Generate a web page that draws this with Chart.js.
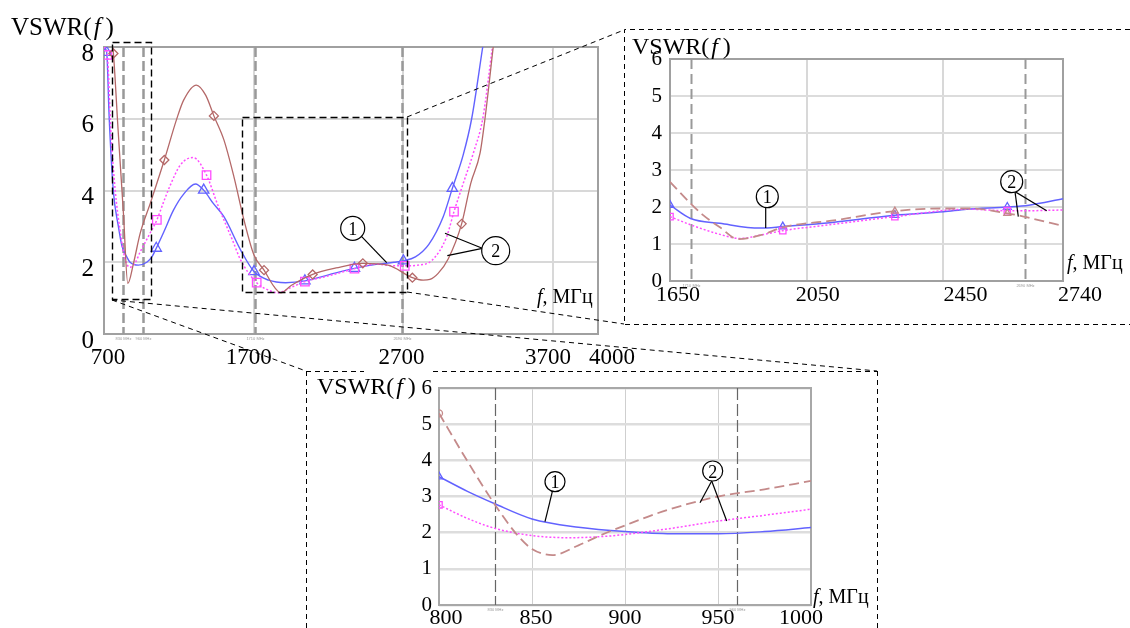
<!DOCTYPE html>
<html>
<head>
<meta charset="utf-8">
<script src="https://cdn.jsdelivr.net/npm/chart.js@4.4.1/dist/chart.umd.min.js"></script>
<style>
  body { margin: 0; width: 1130px; height: 628px; overflow: hidden; position: relative; background: #fff; }
  canvas { position: absolute; }
  .lbl { position: absolute; font-family: "Liberation Serif", serif; color: #000; line-height: 1; white-space: nowrap; }
  svg { position: absolute; left: 0; top: 0; pointer-events: none; }
</style>
</head>
<body>
<canvas id="mainChart" style="left:0;top:0" width="640" height="380"></canvas>
<canvas id="rightChart" style="left:630px;top:45px" width="500" height="270"></canvas>
<canvas id="bottomChart" style="left:380px;top:375px" width="500" height="253"></canvas>

<div class="lbl" style="left:11px;top:14px;font-size:25px">VSWR(<i>&#8202;f&#8201;</i>)</div>
<div class="lbl" style="left:632px;top:34px;font-size:24px">VSWR(<i>&#8202;f&#8201;</i>)</div>
<div class="lbl" style="left:317px;top:374px;font-size:24px">VSWR(<i>&#8202;f&#8201;</i>)</div>
<div class="lbl" style="left:537px;top:286px;font-size:20px"><i>f</i>, МГц</div>
<div class="lbl" style="left:1067px;top:252px;font-size:20px"><i>f</i>, МГц</div>
<div class="lbl" style="left:813px;top:586px;font-size:20px"><i>f</i>, МГц</div>

<svg width="1130" height="628">
  <g fill="none" stroke="#000" stroke-width="1.4" stroke-dasharray="7 4">
    <rect x="112.5" y="42.5" width="39" height="257"/>
    <rect x="242.5" y="117.5" width="165" height="175"/>
  </g>
  <g fill="none" stroke="#000" stroke-width="1" stroke-dasharray="5 4">
    <line x1="407" y1="117" x2="624" y2="30"/>
    <line x1="407" y1="292" x2="624" y2="324"/>
    <line x1="112" y1="300" x2="306" y2="371"/>
    <line x1="112" y1="300" x2="877" y2="371"/>
    <polyline points="1130,29.5 624.5,29.5 624.5,324.5 1130,324.5"/>
    <line x1="306.5" y1="371" x2="306.5" y2="628"/>
    <line x1="306" y1="371.5" x2="364" y2="371.5"/>
    <line x1="433" y1="371.5" x2="877" y2="371.5"/>
    <line x1="877.5" y1="371" x2="877.5" y2="628"/>
  </g>
  <g fill="#fff" stroke="#000" stroke-width="1.2">
    <line x1="361.7" y1="236.7" x2="386.7" y2="262.7"/>
    <line x1="482.3" y1="248.3" x2="445" y2="233.3"/>
    <line x1="482.3" y1="248.3" x2="447.3" y2="255.7"/>
    <circle cx="352.7" cy="228.3" r="12"/>
    <circle cx="495.7" cy="250.7" r="14"/>
    <line x1="765.7" y1="208" x2="765.7" y2="228"/>
    <line x1="1015" y1="191.7" x2="1046.7" y2="210.7"/>
    <line x1="1015" y1="191.7" x2="1018.3" y2="216.7"/>
    <circle cx="767.3" cy="196.7" r="11"/>
    <circle cx="1011.7" cy="181.7" r="11"/>
    <line x1="552.3" y1="491.7" x2="545" y2="521.7"/>
    <line x1="711.7" y1="481" x2="700" y2="502.7"/>
    <line x1="711.7" y1="481" x2="726.7" y2="521"/>
    <circle cx="555" cy="481.7" r="10"/>
    <circle cx="712.7" cy="471" r="10"/>
  </g>
  <g font-family="Liberation Serif" font-size="18" text-anchor="middle" fill="#000">
    <text x="352.7" y="234.5">1</text>
    <text x="495.7" y="257">2</text>
    <text x="767.3" y="203">1</text>
    <text x="1011.7" y="188">2</text>
    <text x="555" y="488">1</text>
    <text x="712.7" y="477.5">2</text>
  </g>
</svg>

<script>
// ---- main chart, 700-4000 MHz ----
const mainXTicks = [700, 1700, 2700, 3700, 4000];
const mainBandEdges = [830, 960, 1710, 2690];

const mainFreqBlue = [700, 718, 735, 762, 796, 820, 852, 874, 930, 986, 1020, 1049, 1100, 1165, 1232, 1311, 1366, 1430, 1501, 1613, 1702, 1800, 1913, 2042, 2200, 2373, 2518, 2637, 2700, 2780, 2870, 2966, 3027, 3100, 3156, 3230];
const mainVswrBlue = [8.0, 7.85, 6.0, 4.0, 3.0, 2.45, 2.15, 2.0, 1.92, 2.0, 2.15, 2.39, 2.85, 3.46, 3.9, 4.18, 4.01, 3.64, 3.27, 2.34, 1.74, 1.5, 1.43, 1.48, 1.65, 1.83, 1.94, 2.0, 2.04, 2.15, 2.5, 3.27, 4.06, 5.0, 6.0, 8.0];
const mainMarksBlue = [718, 1049, 1366, 1702, 2042, 2373, 2700, 3027];

const mainFreqPink = [700, 722, 745, 775, 807, 840, 874, 910, 942, 1000, 1053, 1100, 1143, 1210, 1295, 1385, 1456, 1501, 1560, 1613, 1720, 1800, 1860, 1950, 2042, 2200, 2373, 2518, 2637, 2709, 2800, 2890, 2988, 3038, 3100, 3167, 3230, 3295];
const mainVswrPink = [8.0, 7.78, 5.7, 4.0, 2.9, 2.1, 1.86, 2.0, 2.29, 2.75, 3.18, 3.7, 4.15, 4.71, 4.92, 4.43, 3.64, 3.18, 2.6, 2.06, 1.43, 1.22, 1.15, 1.3, 1.46, 1.62, 1.82, 1.95, 1.9, 1.9, 1.92, 2.05, 2.7, 3.41, 4.2, 5.04, 6.0, 8.0];
const mainMarksPink = [722, 1053, 1385, 1720, 2042, 2373, 2709, 3038];

const mainFreqBrown = [758, 763, 794, 830, 859, 897, 942, 1009, 1103, 1187, 1232, 1317, 1380, 1434, 1501, 1568, 1635, 1702, 1769, 1836, 1881, 1950, 2094, 2250, 2429, 2597, 2760, 2832, 2877, 2932, 3000, 3089, 3150, 3212, 3245, 3300];
const mainVswrBrown = [8.0, 7.82, 5.7, 3.35, 1.41, 1.97, 2.81, 3.64, 4.85, 6.01, 6.52, 6.94, 6.65, 6.08, 5.41, 4.38, 3.18, 2.2, 1.78, 1.32, 1.15, 1.35, 1.66, 1.84, 1.97, 1.92, 1.57, 1.5, 1.52, 1.69, 2.1, 3.07, 4.2, 5.04, 6.0, 8.0];
const mainMarksBrown = [763, 1103, 1434, 1769, 2094, 2429, 2760, 3089];

// ---- right inset, 1650-2740 MHz ----
const rightXTicks = [1650, 2050, 2450, 2800];
const rightXTickText = ["1650", "2050", "2450", "2740"];
const rightBandEdges = [1710, 2690];

const rightFreqBlue = [1650, 1710, 1796, 1913, 1980, 2100, 2308, 2450, 2518, 2637, 2700, 2800];
const rightVswrBlue = [2.05, 1.69, 1.56, 1.43, 1.47, 1.56, 1.78, 1.87, 1.94, 2.0, 2.05, 2.22];
const rightMarksBlue = [1650, 1980, 2308, 2637];

const rightFreqPink = [1650, 1710, 1800, 1855, 1920, 1980, 2100, 2308, 2518, 2637, 2700, 2800];
const rightVswrPink = [1.74, 1.52, 1.25, 1.15, 1.25, 1.36, 1.5, 1.74, 1.94, 1.9, 1.9, 1.92];
const rightMarksPink = [1650, 1980, 2308, 2637];

const rightFreqBrown = [1650, 1710, 1747, 1796, 1850, 1920, 1980, 2138, 2308, 2450, 2528, 2637, 2690, 2800];
const rightVswrBrown = [2.68, 2.1, 1.78, 1.45, 1.13, 1.25, 1.45, 1.65, 1.89, 1.96, 1.96, 1.83, 1.73, 1.49];
const rightMarksBrown = [2308, 2637];

// ---- bottom inset, 800-1000 MHz ----
const bottomXTicks = [800, 850, 900, 950, 1000];
const bottomBandEdges = [830, 960];

const bottomFreqBlue = [800, 815, 830, 850, 875, 900, 925, 950, 975, 1000];
const bottomVswrBlue = [3.55, 3.15, 2.8, 2.38, 2.15, 2.03, 1.97, 1.97, 2.03, 2.14];
const bottomMarksBlue = [800];

const bottomFreqPink = [800, 815, 830, 850, 870, 890, 900, 925, 950, 975, 1000];
const bottomVswrPink = [2.77, 2.4, 2.12, 1.92, 1.86, 1.9, 1.95, 2.12, 2.32, 2.48, 2.65];
const bottomMarksPink = [800];

const bottomFreqBrown = [800, 815, 830, 842, 850, 861, 875, 886, 900, 920, 950, 975, 1000];
const bottomVswrBrown = [5.3, 4.0, 2.78, 1.94, 1.55, 1.38, 1.65, 1.91, 2.2, 2.58, 3.0, 3.2, 3.43];
const bottomMarksBrown = [800];

const SERIF = "Liberation Serif";

function lineDataset(freqs, vals, marks, style) {
  return {
    data: freqs.map((f, i) => ({ x: f, y: vals[i] })),
    borderColor: style.color,
    borderWidth: style.width,
    borderDash: style.dash || [],
    cubicInterpolationMode: "monotone",
    pointStyle: style.point,
    pointRadius: (ctx) => (marks.includes(freqs[ctx.dataIndex]) ? style.size : 0),
    pointHoverRadius: 0,
    pointBorderColor: style.color,
    pointBorderWidth: 1.3,
    pointBackgroundColor: "rgba(255,255,255,0)",
  };
}

// plot frame, dashed band edge lines, x tick labels (the figure nudges them off the ticks)
const framePlugin = {
  id: "frame",
  beforeDatasetsDraw(chart, args, opts) {
    const { ctx, chartArea: a, scales } = chart;
    ctx.save();
    ctx.strokeStyle = opts.frameColor;
    ctx.lineWidth = 2;
    ctx.strokeRect(a.left, a.top, a.right - a.left, a.bottom - a.top);
    ctx.strokeStyle = opts.edgeColor;
    ctx.lineWidth = opts.edgeWidth;
    ctx.setLineDash(opts.edgeDash);
    ctx.font = "4px Arial";
    ctx.textAlign = "center";
    opts.edges.forEach((f) => {
      const x = Math.round(scales.x.getPixelForValue(f)) + 0.5;
      ctx.beginPath();
      ctx.moveTo(x, a.top);
      ctx.lineTo(x, a.bottom);
      ctx.stroke();
      ctx.fillStyle = "#999";
      ctx.fillText(f + " MHz", x, a.bottom + 6);
    });
    ctx.restore();
  },
  afterDraw(chart, args, opts) {
    const { ctx, chartArea: a, scales } = chart;
    ctx.save();
    ctx.fillStyle = "#000";
    ctx.font = opts.labelFont + "px " + SERIF;
    ctx.textAlign = "center";
    ctx.textBaseline = "middle";
    opts.ticks.forEach((v, i) => {
      const x = scales.x.getPixelForValue(v) + opts.labelShift[i];
      ctx.fillText(opts.labels ? opts.labels[i] : String(v), x, a.bottom + opts.labelDy);
    });
    ctx.restore();
  },
};

function makeChart(id, cfg) {
  return new Chart(document.getElementById(id), {
    type: "line",
    data: { datasets: cfg.datasets },
    plugins: [framePlugin],
    options: {
      responsive: false,
      animation: false,
      events: [],
      layout: { padding: cfg.padding },
      plugins: {
        legend: { display: false },
        tooltip: { enabled: false },
        frame: cfg.frame,
      },
      scales: {
        x: {
          type: "linear",
          min: cfg.xMin,
          max: cfg.xMax,
          afterBuildTicks: (s) => { s.ticks = cfg.frame.ticks.map((v) => ({ value: v })); },
          afterFit: (s) => { s.height = cfg.xHeight; s.paddingLeft = 0; s.paddingRight = 0; },
          grid: { color: cfg.xGridColor, lineWidth: cfg.xGridWidth, drawTicks: false },
          border: { display: false },
          ticks: { display: false },
        },
        y: {
          min: 0,
          max: cfg.yMax,
          afterFit: (s) => { s.width = cfg.yWidth; s.paddingTop = 0; s.paddingBottom = 0; },
          grid: { color: cfg.yGridColor, lineWidth: cfg.yGridWidth, drawTicks: false },
          border: { display: false },
          ticks: {
            stepSize: cfg.yStep,
            padding: cfg.yPad,
            labelOffset: cfg.yLabelOffset || 0,
            color: "#000",
            font: { family: SERIF, size: cfg.yFont },
          },
        },
      },
    },
  });
}

const BLUE = "#6262ff";
const PINK = "#ff4cff";
const BROWN = "#b46868";
const BROWN_LIGHT = "#c48a8a";

makeChart("mainChart", {
  datasets: [
    lineDataset(mainFreqBrown, mainVswrBrown, mainMarksBrown, { color: BROWN, width: 1.3, point: "rectRot", size: 4.5 }),
    lineDataset(mainFreqPink, mainVswrPink, mainMarksPink, { color: PINK, width: 1.5, dash: [2, 2], point: "rect", size: 6 }),
    lineDataset(mainFreqBlue, mainVswrBlue, mainMarksBlue, { color: BLUE, width: 1.4, point: "triangle", size: 6 }),
  ],
  padding: { left: 0, top: 47, right: 42, bottom: 6 },
  xMin: 700, xMax: 4000, xHeight: 40,
  xGridColor: "#d8d8d8", xGridWidth: 2,
  yMax: 8, yStep: 2, yWidth: 104, yPad: 10, yFont: 25, yLabelOffset: 7,
  yGridColor: "#d8d8d8", yGridWidth: 2,
  frame: {
    frameColor: "#a0a0a0", edgeColor: "#999", edgeWidth: 2.5, edgeDash: [10, 4], edges: mainBandEdges,
    ticks: mainXTicks, labelShift: [4, -5, -2, -5, 14], labelDy: 24, labelFont: 23,
  },
});

makeChart("rightChart", {
  datasets: [
    lineDataset(rightFreqBrown, rightVswrBrown, rightMarksBrown, { color: BROWN_LIGHT, width: 1.8, dash: [10, 5], point: "triangle", size: 4 }),
    lineDataset(rightFreqPink, rightVswrPink, rightMarksPink, { color: PINK, width: 1.5, dash: [2, 2], point: "rect", size: 4.5 }),
    lineDataset(rightFreqBlue, rightVswrBlue, rightMarksBlue, { color: BLUE, width: 1.5, point: "triangle", size: 4.5 }),
  ],
  padding: { left: 0, top: 14, right: 67, bottom: 4 },
  xMin: 1650, xMax: 2800, xHeight: 30,
  xGridColor: "#d8d8d8", xGridWidth: 2,
  yMax: 6, yStep: 1, yWidth: 40, yPad: 8, yFont: 21,
  yGridColor: "#dcdcdc", yGridWidth: 2,
  frame: {
    frameColor: "#a0a0a0", edgeColor: "#999", edgeWidth: 2, edgeDash: [10, 5], edges: rightBandEdges,
    ticks: rightXTicks, labels: rightXTickText, labelShift: [8, 11, 22, 17], labelDy: 14, labelFont: 22,
  },
});

makeChart("bottomChart", {
  datasets: [
    lineDataset(bottomFreqBrown, bottomVswrBrown, bottomMarksBrown, { color: BROWN_LIGHT, width: 1.8, dash: [10, 5], point: "circle", size: 3.5 }),
    lineDataset(bottomFreqPink, bottomVswrPink, bottomMarksPink, { color: PINK, width: 1.5, dash: [2, 2], point: "rect", size: 4.5 }),
    lineDataset(bottomFreqBlue, bottomVswrBlue, bottomMarksBlue, { color: BLUE, width: 1.5, point: "triangle", size: 4.5 }),
  ],
  padding: { left: 0, top: 13, right: 69, bottom: 0 },
  xMin: 800, xMax: 1000, xHeight: 23,
  xGridColor: "#cfcfcf", xGridWidth: 1,
  yMax: 6, yStep: 1, yWidth: 59, yPad: 7, yFont: 21,
  yGridColor: "#dddddd", yGridWidth: 2.5,
  frame: {
    frameColor: "#a8a8a8", edgeColor: "#666", edgeWidth: 1.2, edgeDash: [12, 4], edges: bottomBandEdges,
    ticks: bottomXTicks, labelShift: [7, 4, 0, 0, -10], labelDy: 13, labelFont: 22,
  },
});
</script>
</body>
</html>
